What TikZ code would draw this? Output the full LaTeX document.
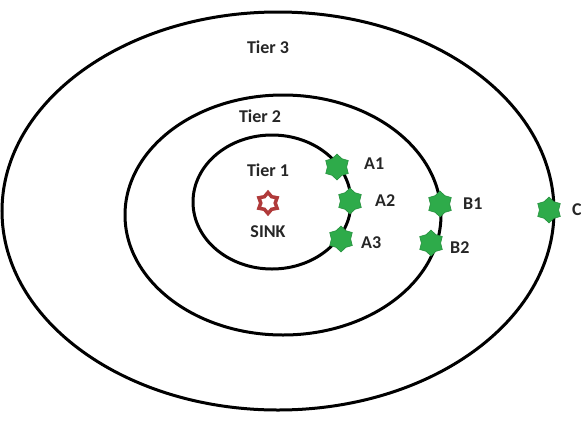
\documentclass[tikz,border=0pt]{standalone}
\usepackage{fontspec}
\setmainfont{Carlito}
\usetikzlibrary{shapes.geometric}
\definecolor{nodegreen}{HTML}{2EAB4A}
\definecolor{sinkred}{HTML}{B03A3A}
\tikzset{
  tier/.style={draw=black,line width=3pt},
  sensor/.style={star,star points=6,star point ratio=1.35,fill=nodegreen,draw=nodegreen!85!black,line width=0.6pt,minimum size=26pt,inner sep=0pt},
  lbl/.style={font=\bfseries\fontsize{18}{20}\selectfont,text=black!85,inner sep=1pt},
  sinkstar/.style={star,star points=6,star point ratio=1.45,draw=sinkred,line width=3.5pt,fill=white,minimum size=21pt,inner sep=0pt}
}
\begin{document}
\begin{tikzpicture}[x=1pt,y=-1pt]
\useasboundingbox (0,0) rectangle (581,421);
\fill[white] (0,0) rectangle (581,421);
\draw[tier] (278,211) ellipse [x radius=276,y radius=199];
\draw[tier] (283,215) ellipse [x radius=158,y radius=120];
\draw[tier] (272,202) ellipse [x radius=79,y radius=67];
\node[lbl] (t3) at (268,47) {Tier 3};
\node[lbl] (t2) at (260,116) {Tier 2};
\node[lbl] (t1) at (268,170) {Tier 1};
\node[sinkstar] (sink) at (268,203) {};
\node[lbl] (sinkl) at (268,232) {SINK};
\node[sensor] (a1) at (337,167) {};
\node[sensor] (a2) at (350,201) {};
\node[sensor] (a3) at (341,239) {};
\node[sensor] (b1) at (440,204) {};
\node[sensor] (b2) at (431,243) {};
\node[sensor] (c) at (549,210) {};
\node[lbl,anchor=west] (a1l) at (363,164) {A1};
\node[lbl,anchor=west] (a2l) at (374,201) {A2};
\node[lbl,anchor=west] (a3l) at (360,243) {A3};
\node[lbl,anchor=west] (b1l) at (462,204) {B1};
\node[lbl,anchor=west] (b2l) at (449,248) {B2};
\node[lbl,anchor=west] (cl) at (571,210) {C};
\end{tikzpicture}
\end{document}
